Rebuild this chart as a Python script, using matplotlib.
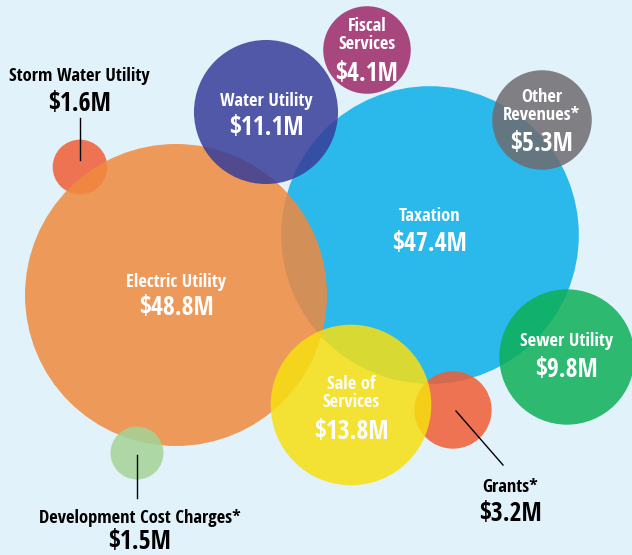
import numpy as np
import matplotlib.pyplot as plt
from matplotlib.patches import Circle
from matplotlib import font_manager
from matplotlib.colors import to_rgb

# revenue sources ($ millions)
names = ["Electric Utility", "Taxation", "Water Utility", "Fiscal\nServices",
         "Other\nRevenues*", "Sewer Utility", "Sale of\nServices", "Grants*",
         "Storm Water Utility", "Development Cost Charges*"]
values = [48.8, 47.4, 11.1, 4.1, 5.3, 9.8, 13.8, 3.2, 1.6, 1.5]
# colours as they look on the background
colors = ["#EE9A5A", "#2BB8EC", "#5158A8", "#A8467E", "#808084",
          "#2DB970", "#F4E234", "#EE7352", "#EE7352", "#AED8A6"]

# bubble centres in pixel space
cx = [176, 430, 266, 367, 542, 567, 351, 453, 80, 137]
cy = [295, 235, 112, 50, 120, 357, 405, 410, 167, 453]
# drawing order (index into the lists above)
order = [1, 8, 0, 2, 3, 4, 5, 7, 6, 9]

BIG_R = 151  # radius of the largest bubble in px
radii = [BIG_R * np.sqrt(v / max(values)) for v in values]

bg = "#E2F2FB"
ALPHA = 0.85

def base_color(c):
    # colour that gives c when laid over bg with ALPHA
    c = np.array(to_rgb(c))
    b = np.array(to_rgb(bg))
    return tuple(np.clip((c - (1 - ALPHA) * b) / ALPHA, 0, 1))

# pick a narrow bold face if one is installed
avail = {f.name for f in font_manager.fontManager.ttflist}
stretch = "normal"
lab_fs, val_fs = 9.5, 13
fam = ["DejaVu Sans"]
for n in ["Liberation Sans Narrow", "Open Sans Condensed", "Roboto Condensed"]:
    if n in avail:
        fam = [n, "DejaVu Sans"]
        lab_fs, val_fs = 13.3, 18.5
        break
else:
    cond = [f for f in font_manager.fontManager.ttflist
            if f.name == "DejaVu Sans" and "ondensed" in f.fname]
    if cond:
        stretch = "condensed"
        lab_fs, val_fs = 12, 16.7

fig = plt.figure(figsize=(6.32, 5.55), dpi=100, facecolor=bg)
ax = fig.add_axes([0, 0, 1, 1])
ax.set_facecolor(bg)
ax.set_xlim(0, 632)
ax.set_ylim(555, 0)
ax.set_aspect("equal")
ax.axis("off")

for i in order:
    ax.add_patch(Circle((cx[i], cy[i]), radii[i], facecolor=base_color(colors[i]),
                        edgecolor="none", alpha=ALPHA))

def txt(x, y, s, size, color="black"):
    ax.text(x, y, s, color=color, fontsize=size, fontweight="bold", family=fam,
            fontstretch=stretch, ha="center", va="center", linespacing=1.05)

# labels inside bubbles
inside = [0, 1, 2, 3, 4, 5, 6]
label_y = [282, 216, 101, 35, 106, 341, 393]
value_y = [308, 244, 127, 74, 143, 369, 432]
for i, ly, vy in zip(inside, label_y, value_y):
    txt(cx[i], ly, names[i], lab_fs, "white")
    txt(cx[i], vy, "$%.1fM" % values[i], val_fs, "white")

# small bubbles with callouts
ax.plot([80, 80], [118, 160], color="black", lw=1)
txt(79, 76, names[8], lab_fs)
txt(80, 103, "$%.1fM" % values[8], val_fs)

ax.plot([137, 137], [455, 498], color="black", lw=1)
txt(140, 518, names[9], lab_fs)
txt(140, 541, "$%.1fM" % values[9], val_fs)

ax.plot([456, 503], [411, 465], color="black", lw=1)
txt(510, 487, names[7], lab_fs)
txt(510, 514, "$%.1fM" % values[7], val_fs)

fig.savefig("out.png", dpi=100, facecolor=bg)
